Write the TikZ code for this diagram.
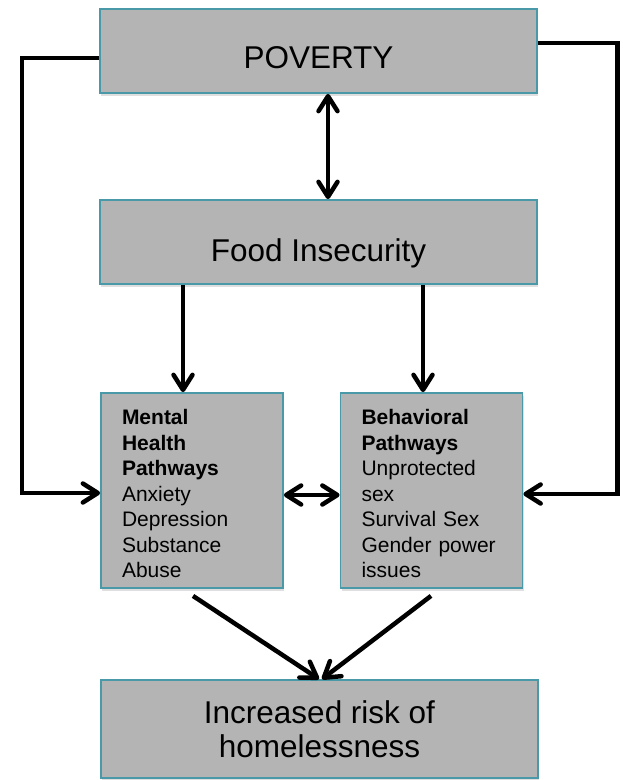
\documentclass[tikz,border=0pt]{standalone}
\usepackage{fontspec}
\setmainfont{Liberation Sans}
\usetikzlibrary{arrows.meta,shadows}
\definecolor{boxfill}{RGB}{180,180,180}
\definecolor{boxedge}{RGB}{74,153,168}
\begin{document}
\begin{tikzpicture}[x=1pt,y=-1pt,
  box/.style={draw=boxedge, line width=1.8pt, fill=boxfill, inner sep=0pt,
    drop shadow={shadow xshift=1pt, shadow yshift=-3pt, opacity=0.25}},
  big/.style={font=\fontsize{31.5}{34}\selectfont},
  small/.style={font=\fontsize{21}{25.5}\selectfont, align=left, text width=140pt, inner xsep=21pt},
  tipshape/.tip={Straight Barb[length=15pt,width=19pt,round]},
  conn/.style={line width=4.5pt, -tipshape},
  biconn/.style={line width=4.5pt, tipshape-tipshape},
  plainline/.style={line width=4.5pt}
]
\useasboundingbox (0,0) rectangle (623,780);

\node[box, big, minimum width=437pt, minimum height=84pt, text height=34pt, text depth=0pt] (pov) at (318.5,51) {POVERTY};
\node[box, big, minimum width=437pt, minimum height=84pt, text height=38pt, text depth=0pt] (food) at (318.5,242) {Food Insecurity};
\node[box, small, minimum width=182pt, minimum height=195pt] (mh) at (192,490.5)
  {\rule{0pt}{22pt}\textbf{Mental}\\\textbf{Health}\\\textbf{Pathways}\\Anxiety\\Depression\\Substance\\Abuse};
\node[box, small, minimum width=181pt, minimum height=195pt] (bh) at (431.5,490.5)
  {\rule{0pt}{22pt}\textbf{Behavioral}\\\textbf{Pathways}\\Unprotected\\sex\\Survival Sex\\Gender power\\issues};
\node[box, big, align=center, minimum width=437pt, minimum height=98pt] (bot) at (319.5,729)
  {Increased risk of\\homelessness};

\draw[biconn] ([xshift=9.5pt]pov.south) -- ([xshift=9.5pt]food.north);
\draw[conn] ([xshift=-9pt]mh.north |- food.south) -- ([xshift=-9pt]mh.north);
\draw[conn] ([xshift=-8.5pt]bh.north |- food.south) -- ([xshift=-8.5pt]bh.north);
\draw[biconn] ([yshift=-4.5pt]mh.east) -- ([yshift=-4.5pt]bh.west);
\draw[conn] ([yshift=-7pt]pov.west) -| ([xshift=-78pt,yshift=-2.5pt]mh.west) -- ([yshift=-2.5pt]mh.west);
\draw[conn] ([yshift=8pt]pov.east) -| ([xshift=94pt,yshift=-3.5pt]bh.east) -- ([yshift=-3.5pt]bh.east);
\draw[conn] ([xshift=1pt,yshift=-7pt]mh.south) -- ([xshift=-0.5pt]bot.north);
\draw[conn] ([xshift=-0.5pt,yshift=-7pt]bh.south) -- ([xshift=2.5pt]bot.north);
\end{tikzpicture}
\end{document}
